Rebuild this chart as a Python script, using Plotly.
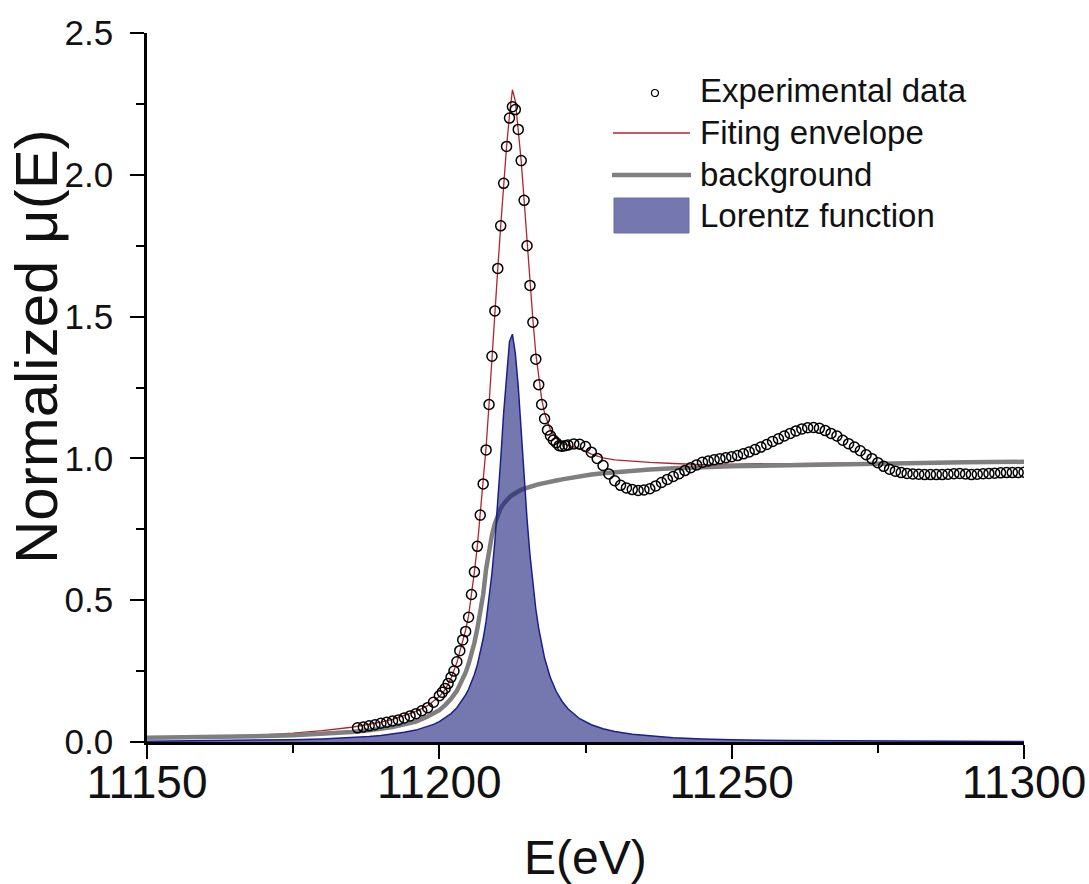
import plotly.graph_objects as go

# ---------------- data ----------------
# experimental points
exp_e = [11186, 11187, 11188, 11189, 11190, 11191, 11192, 11193, 11194, 11195,
         11196, 11197, 11198, 11199, 11200, 11200.5, 11201, 11201.5, 11202, 11202.5,
         11203, 11203.5, 11204, 11204.5, 11205, 11205.5, 11206, 11206.5, 11207, 11207.5,
         11208, 11208.5, 11209, 11209.5, 11210, 11210.5, 11211, 11211.5, 11212, 11212.5,
         11213, 11213.5, 11214, 11214.5, 11215, 11215.5, 11216, 11216.5, 11217, 11217.5,
         11218, 11218.5, 11219, 11219.5, 11220, 11220.5, 11221, 11221.5, 11222, 11223,
         11224, 11225, 11226, 11227, 11228, 11229, 11230, 11231, 11232, 11233,
         11234, 11235, 11236, 11237, 11238, 11239, 11240, 11241, 11242, 11243,
         11244, 11245, 11246, 11247, 11248, 11249, 11250, 11251, 11252, 11253,
         11254, 11255, 11256, 11257, 11258, 11259, 11260, 11261, 11262, 11263,
         11264, 11265, 11266, 11267, 11268, 11269, 11270, 11271, 11272, 11273,
         11274, 11275, 11276, 11277, 11278, 11279, 11280, 11281, 11282, 11283,
         11284, 11285, 11286, 11287, 11288, 11289, 11290, 11291, 11292, 11293,
         11294, 11295, 11296, 11297, 11298, 11299, 11300]
exp_mu = [0.050, 0.053, 0.057, 0.061, 0.066, 0.070, 0.074, 0.078, 0.085, 0.092,
          0.100, 0.110, 0.121, 0.140, 0.163, 0.175, 0.189, 0.206, 0.228, 0.250,
          0.283, 0.322, 0.360, 0.390, 0.440, 0.520, 0.600, 0.690, 0.800, 0.910,
          1.030, 1.190, 1.360, 1.520, 1.670, 1.820, 1.970, 2.100, 2.200, 2.240,
          2.230, 2.160, 2.050, 1.910, 1.750, 1.610, 1.480, 1.350, 1.260, 1.190,
          1.140, 1.100, 1.080, 1.065, 1.055, 1.045, 1.043, 1.045, 1.047, 1.051,
          1.050, 1.042, 1.022, 1.000, 0.975, 0.945, 0.921, 0.905, 0.896, 0.890,
          0.887, 0.889, 0.893, 0.903, 0.915, 0.926, 0.936, 0.946, 0.957, 0.967,
          0.977, 0.986, 0.991, 0.995, 0.999, 1.002, 1.006, 1.010, 1.016, 1.023,
          1.031, 1.040, 1.049, 1.060, 1.069, 1.079, 1.088, 1.097, 1.104, 1.108,
          1.109, 1.106, 1.098, 1.088, 1.079, 1.064, 1.052, 1.040, 1.027, 1.013,
          0.999, 0.985, 0.972, 0.962, 0.955, 0.950, 0.947, 0.945, 0.944, 0.943,
          0.943, 0.943, 0.943, 0.944, 0.946, 0.947, 0.945, 0.943, 0.944, 0.946,
          0.947, 0.948, 0.949, 0.950, 0.950, 0.950, 0.951]

# energies of the fitted curves
fit_e = [11150, 11160, 11170, 11175, 11180, 11185, 11188, 11190, 11192, 11194,
         11196, 11198, 11199, 11200, 11201, 11202, 11203, 11204, 11204.5, 11205,
         11205.5, 11206, 11206.5, 11207, 11207.5, 11208, 11208.5, 11209, 11209.5, 11210,
         11210.5, 11211, 11211.5, 11212, 11212.5, 11213, 11213.5, 11214, 11214.5, 11215,
         11215.5, 11216, 11216.5, 11217, 11217.5, 11218, 11219, 11220, 11221, 11222,
         11224, 11226, 11228, 11230, 11233, 11236, 11240, 11245, 11250, 11260,
         11270, 11280, 11290, 11300]
envelope = [0.015, 0.019, 0.025, 0.031, 0.040, 0.052, 0.062, 0.070, 0.080, 0.093,
            0.108, 0.128, 0.143, 0.160, 0.185, 0.225, 0.280, 0.355, 0.395, 0.445,
            0.520, 0.600, 0.690, 0.800, 0.915, 1.040, 1.190, 1.360, 1.520, 1.670,
            1.820, 1.970, 2.100, 2.210, 2.300, 2.260, 2.160, 2.050, 1.910, 1.760,
            1.620, 1.490, 1.370, 1.280, 1.210, 1.160, 1.100, 1.070, 1.055, 1.045,
            1.035, 1.015, 1.002, 0.995, 0.990, 0.986, 0.982, 0.978, 0.980, 0.982,
            0.985, 0.987, 0.989, 0.990]
background = [0.015, 0.017, 0.021, 0.024, 0.028, 0.035, 0.041, 0.046, 0.053, 0.062,
              0.072, 0.090, 0.100, 0.112, 0.130, 0.152, 0.180, 0.220, 0.245, 0.275,
              0.310, 0.350, 0.400, 0.460, 0.520, 0.610, 0.675, 0.730, 0.770, 0.800,
              0.825, 0.840, 0.853, 0.863, 0.871, 0.878, 0.884, 0.889, 0.893, 0.897,
              0.900, 0.903, 0.906, 0.909, 0.911, 0.914, 0.918, 0.922, 0.926, 0.930,
              0.937, 0.943, 0.948, 0.952, 0.957, 0.961, 0.965, 0.969, 0.972, 0.976,
              0.980, 0.983, 0.986, 0.988]
lorentz = [0.003, 0.004, 0.0065, 0.008, 0.011, 0.015, 0.019, 0.023, 0.028, 0.034,
           0.042, 0.054, 0.062, 0.072, 0.085, 0.100, 0.121, 0.149, 0.166, 0.186,
           0.210, 0.238, 0.272, 0.314, 0.364, 0.426, 0.502, 0.594, 0.708, 0.843,
           0.997, 1.160, 1.290, 1.412, 1.438, 1.370, 1.253, 1.095, 0.933, 0.786,
           0.660, 0.555, 0.469, 0.400, 0.343, 0.296, 0.226, 0.178, 0.143, 0.117,
           0.082, 0.061, 0.047, 0.037, 0.027, 0.021, 0.015, 0.011, 0.008, 0.005,
           0.0035, 0.0026, 0.0019, 0.0015]

legend_names = ["Experimental data", "Fiting envelope", "background", "Lorentz function"]
x_ticks = [11150, 11200, 11250, 11300]
y_ticks = [0.0, 0.5, 1.0, 1.5, 2.0, 2.5]

# ---------------- styles ----------------
RED = "#B0262A"
GRAY = "#7F7F7F"
FILL = "rgba(25,30,120,0.6)"
EDGE = "#1B1F8C"
REG = "Liberation Sans, Arial, sans-serif"

fig = go.Figure()
fig.add_trace(go.Scatter(x=fit_e, y=envelope, mode="lines", name=legend_names[1],
                         line=dict(color=RED, width=1.3), showlegend=False))
fig.add_trace(go.Scatter(x=fit_e, y=background, mode="lines", name=legend_names[2],
                         line=dict(color=GRAY, width=4.5), showlegend=False))
fig.add_trace(go.Scatter(x=fit_e, y=lorentz, mode="lines", name=legend_names[3],
                         fill="tozeroy", fillcolor=FILL,
                         line=dict(color=EDGE, width=1.5), showlegend=False))
fig.add_trace(go.Scatter(x=exp_e, y=exp_mu, mode="markers", name=legend_names[0],
                         marker=dict(symbol="circle-open", size=10, color="black",
                                     line=dict(width=1.5, color="black")),
                         showlegend=False))

# ---------------- manual legend (paper coords of plot area) ----------------
L, R, T, B = 147, 1024, 33, 742
def px(xp):
    return (xp - L) / (R - L)
def py(yp):
    return (B - yp) / (B - T)

shapes = [
    dict(type="circle", xref="paper", yref="paper",
         x0=px(651.5), x1=px(658.5), y0=py(96.5), y1=py(89.5),
         line=dict(color="black", width=1.2)),
    dict(type="line", xref="paper", yref="paper",
         x0=px(613), x1=px(690), y0=py(133), y1=py(133),
         line=dict(color=RED, width=1.3)),
    dict(type="line", xref="paper", yref="paper",
         x0=px(612), x1=px(691), y0=py(175), y1=py(175),
         line=dict(color=GRAY, width=4.5)),
    dict(type="rect", xref="paper", yref="paper",
         x0=px(614), x1=px(689), y0=py(233), y1=py(198),
         fillcolor="rgb(117,120,174)", line=dict(color="rgb(105,108,165)", width=1)),
]
annotations = []
for name, yc in zip(legend_names, [91, 132, 174, 215]):
    annotations.append(dict(text=name, xref="paper", yref="paper", x=px(698), y=py(yc),
                            xanchor="left", yanchor="middle", showarrow=False,
                            font=dict(family=REG, size=33, color="#111")))
# axis titles
annotations.append(dict(text="E(eV)", xref="paper", yref="paper", x=px(585), y=py(857),
                        xanchor="center", yanchor="middle", showarrow=False,
                        font=dict(family=REG, size=48, color="#111")))
annotations.append(dict(text="Normalized μ(E)", xref="paper", yref="paper", x=px(36), y=py(347),
                        xanchor="center", yanchor="middle", showarrow=False, textangle=-90,
                        font=dict(family=REG, size=60, color="#111")))

fig.update_layout(
    width=1089, height=884, autosize=False,
    margin=dict(l=L, r=1089 - R, t=T, b=884 - B, autoexpand=False),
    paper_bgcolor="white", plot_bgcolor="white",
    shapes=shapes, annotations=annotations,
    showlegend=False,
)
fig.update_xaxes(range=[11150, 11300], tickvals=x_ticks, ticktext=[str(v) for v in x_ticks],
                 showgrid=False, zeroline=False, showline=True, linecolor="black", linewidth=2.5,
                 ticks="outside", ticklen=14, tickwidth=2, tickcolor="black",
                 ticklabeloverflow="allow", ticklabelstandoff=-16, automargin=False,
                 tickfont=dict(family=REG, size=46, color="#111"),
                 minor=dict(ticks="outside", ticklen=8, tickwidth=2, tickcolor="black",
                            tickvals=[11175, 11225, 11275], showgrid=False))
fig.update_yaxes(range=[0, 2.5], tickvals=y_ticks, ticktext=["%.1f" % v for v in y_ticks],
                 showgrid=False, zeroline=False, showline=True, linecolor="black", linewidth=2.5,
                 ticks="outside", ticklen=14, tickwidth=2, tickcolor="black",
                 ticklabelstandoff=10, ticklabeloverflow="allow", automargin=False,
                 tickfont=dict(family=REG, size=35, color="#111"),
                 minor=dict(ticks="outside", ticklen=8, tickwidth=2, tickcolor="black",
                            tickvals=[0.25, 0.75, 1.25, 1.75, 2.25], showgrid=False))

fig.write_html("out.html",
               config={"displayModeBar": False, "responsive": False},
               post_script="document.body.style.margin='0px';"
                           "document.body.style.overflow='hidden';")
